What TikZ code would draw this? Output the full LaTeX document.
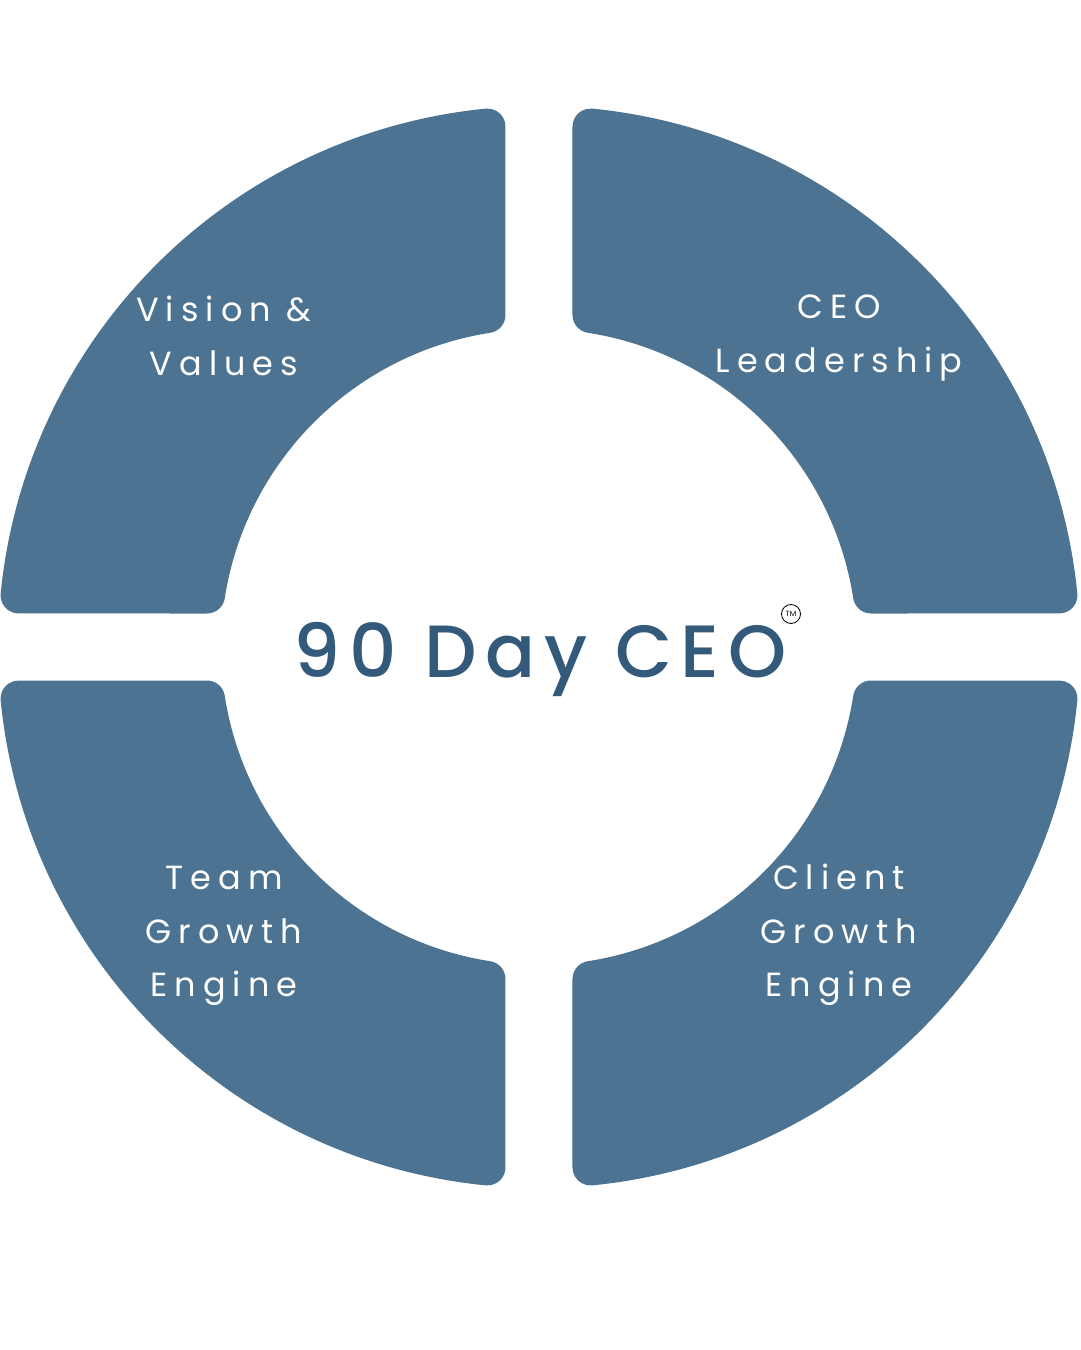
\documentclass[tikz,border=0pt]{standalone}
\usepackage{fontspec}
\setmainfont{Poppins}
\newfontfamily\labelfont[LetterSpace=21]{Poppins}
\newfontfamily\titlefont[LetterSpace=11.5]{Poppins Medium}
\definecolor{segblue}{HTML}{4C7391}
\definecolor{titleblue}{HTML}{335A7B}
\tikzset{
  segfill/.style={fill=segblue},
  lbl/.style={text=white, font=\labelfont\fontsize{33.5}{33.5}\selectfont, anchor=base, inner sep=0pt},
}
\begin{document}
\begin{tikzpicture}[x=1pt,y=1pt]
\useasboundingbox (-539,-703) rectangle (541,647);
\foreach \sx/\sy in {1/1,-1/1,1/-1,-1/-1}{
  \fill[segfill,xscale=\sx,yscale=\sy] (33.5,332.03) -- (33.5,520.46)
    arc[start angle=180,end angle=84.35,radius=18]
    arc[start angle=84.35,end angle=5.65,radius=541]
    arc[start angle=5.65,end angle=-90,radius=18]
    -- (332.03,33.5)
    arc[start angle=270,end angle=188.82,radius=18]
    arc[start angle=8.82,end angle=81.18,radius=318]
    arc[start angle=261.18,end angle=180,radius=18] -- cycle;
}
% labels
\node[lbl] (vis1) at (-315,325) {Vision \&};
\node[lbl] (vis2) at (-315,272) {Values};
\node[lbl] (ceo1) at (300,328) {CEO};
\node[lbl] (ceo2) at (300,274) {Leadership};
\node[lbl] (team1) at (-315,-242) {Team};
\node[lbl] (team2) at (-315,-296) {Growth};
\node[lbl] (team3) at (-315,-349) {Engine};
\node[lbl] (cli1) at (300,-242) {Client};
\node[lbl] (cli2) at (300,-296) {Growth};
\node[lbl] (cli3) at (300,-349) {Engine};
% title
\node[text=titleblue, font=\titlefont\fontsize{74}{74}\selectfont, anchor=base, inner sep=0pt] (title) at (1,-30) {90 Day CEO};
\node[draw=black, line width=0.8pt, circle, minimum size=19pt, inner sep=0pt, font=\fontsize{7.5}{7.5}\selectfont] (tm) at (252,33) {TM};
\end{tikzpicture}
\end{document}
